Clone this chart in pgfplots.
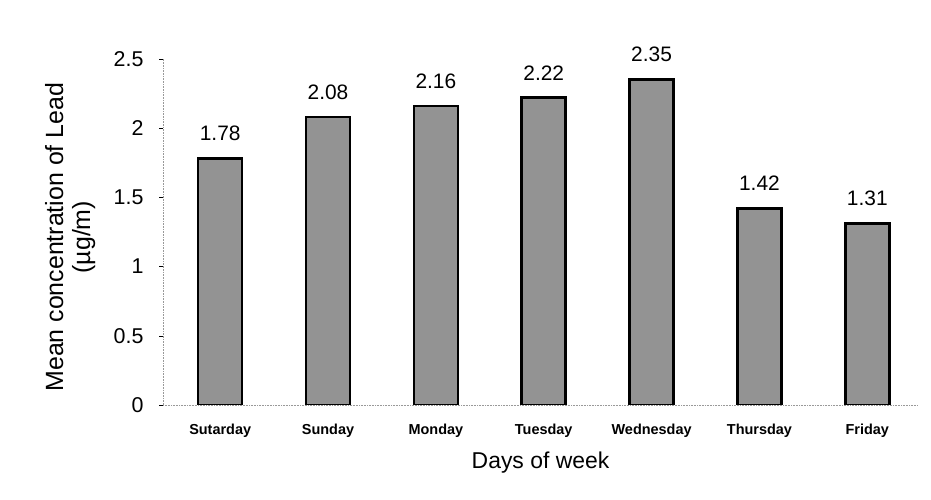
\documentclass[border=0pt]{standalone}
\usepackage{pgfplots}
\pgfplotsset{compat=1.18}
\usepackage{fontspec}
\setmainfont{Liberation Sans}
\begin{document}
\begin{tikzpicture}[x=1bp,y=1bp]
\useasboundingbox (0,0) rectangle (931,500);
\begin{axis}[
  at={(163bp,95bp)}, anchor=south west,
  scale only axis,
  width=755bp, height=346bp,
  xmin=-0.53, xmax=6.47,
  ymin=0, ymax=2.5,
  axis x line=bottom, axis y line=left,
  axis line style={gray!80, line width=0.6pt, densely dotted, -},
  /pgf/number format/assume math mode=true,
  xtick=data,
  xticklabels={Sutarday,Sunday,Monday,Tuesday,Wednesday,Thursday,Friday},
  x tick label style={font=\fontsize{14.5}{16}\selectfont\bfseries, yshift=-12bp},
  xtick style={draw=none},
  ytick={0,0.5,1,1.5,2,2.5},
  yticklabels={0,0.5,1,1.5,2,2.5},
  y tick label style={font=\fontsize{21.5}{23}\selectfont, xshift=-12bp},
  ytick style={black, line width=0.5pt, solid},
  tick align=outside,
  major tick length=4bp,
  xlabel={Days of week},
  xlabel style={font=\fontsize{23}{25}\selectfont, at={(axis description cs:0.5,-0.165)}, anchor=center},
  ylabel={Mean concentration of Lead\\(µg/m)},
  ylabel style={font=\fontsize{25}{27}\selectfont, align=center, at={(axis description cs:-0.123,0.485)}, anchor=center},
  ybar, bar width=44bp,
  nodes near coords,
  every node near coord/.append style={font=\fontsize{21}{23}\selectfont, yshift=13bp},
  nodes near coords={\pgfmathprintnumber[fixed,precision=2,assume math mode=true]{\pgfplotspointmeta}},
]
\addplot[fill=gray!85, draw=black, line width=2.6pt, solid] coordinates {
(0,1.78) (1,2.08) (2,2.16) (3,2.22) (4,2.35) (5,1.42) (6,1.31)};
\end{axis}
\end{tikzpicture}
\end{document}
